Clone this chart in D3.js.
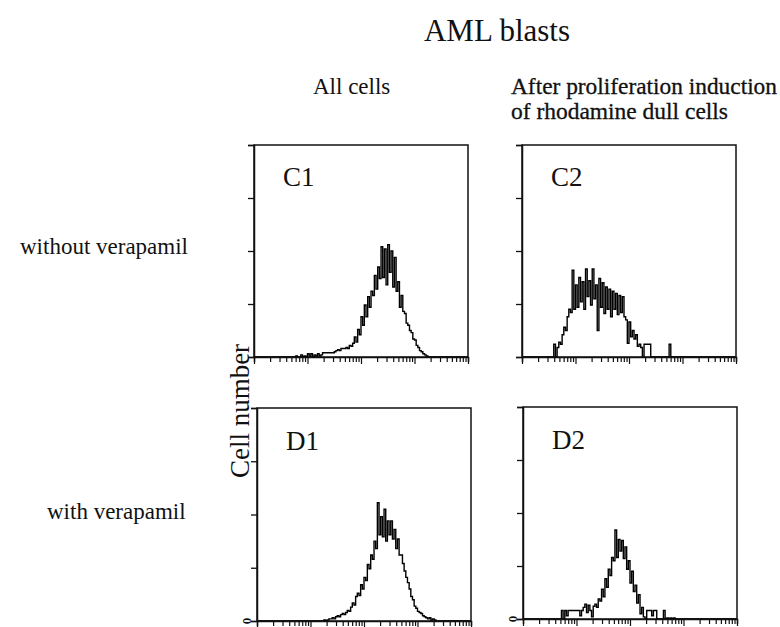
<!DOCTYPE html>
<html><head><meta charset="utf-8">
<script src="https://cdn.jsdelivr.net/npm/d3@7"></script>
<style>body{margin:0;background:#fff}svg{display:block}</style>
</head><body>
<svg id="fig" width="780" height="627"></svg>
<script>
// Flow histograms: 128 channels across four log decades of rhodamine fluorescence
const channelCount = 128;
const decades = [1, 10, 100, 1000, 10000];
const countTicks = [0, 50, 100, 150, 200];

// Cell counts per channel, starting at the given channel (zero elsewhere)
const c1Start = 25;
const c1Counts = [1,0,0,2,0,1,0,3,1,3,0,2,1,3,1,2,4,4,4,4,4,4,4,5,6,7,6,8,8,8,9,8,11,10,13,19,14,26,21,38,30,49,38,57,47,62,58,77,64,85,74,104,75,102,68,106,80,100,66,94,62,71,47,58,43,41,32,30,25,23,17,16,11,9,6,5,3,2,1];

const c2Start = 18;
const c2Counts = [0,12,0,9,14,12,21,28,25,38,45,42,82,45,68,47,75,52,71,45,83,57,72,49,83,55,68,25,74,47,70,41,66,45,64,38,62,45,60,40,58,42,57,38,35,13,33,19,25,17,21,10,12,9,0,12,12,12,12,0,0,0,0,0,0,0,0,0,0,0,12];

const d1Start = 40;
const d1Counts = [1,0,1,2,2,3,2,4,5,4,6,7,6,8,10,9,13,17,15,23,26,24,34,30,41,38,53,49,62,58,75,68,111,81,98,79,105,75,94,81,94,77,86,68,77,62,62,54,47,41,36,30,23,20,14,12,9,8,7,5,4,3,2,3,1,2,1,0];

const d2Start = 22;
const d2Counts = [0,8,0,8,3,8,8,8,8,8,8,8,3,8,11,14,6,13,8,2,12,14,11,19,17,28,21,38,30,47,41,58,55,84,58,75,64,74,57,68,47,55,34,45,26,32,15,23,5,11,2,0,8,8,8,3,8,8,0,0,0,0,8,0,1,0,1,0,1,0];

const panelNames = ["C1", "C2", "D1", "D2"];
const panelData = {
  C1: {start: c1Start, counts: c1Counts},
  C2: {start: c2Start, counts: c2Counts},
  D1: {start: d1Start, counts: d1Counts},
  D2: {start: d2Start, counts: d2Counts}
};

// Frame of each histogram on the page
const frames = {
  C1: {x: 254, y: 145, w: 214, h: 212},
  C2: {x: 522, y: 145, w: 214, h: 212},
  D1: {x: 257, y: 408, w: 214, h: 213},
  D2: {x: 523, y: 407, w: 214, h: 212}
};

const svg = d3.select("#fig");
const serif = "'Liberation Serif', 'Times New Roman', serif";
const ink = "#111";

// minor + major log ticks
const logTicks = [];
for (let e = 0; e < 4; e++) for (let m = 1; m < 10; m++) logTicks.push(m * Math.pow(10, e));
logTicks.push(10000);

panelNames.forEach(name => {
  const f = frames[name];
  const d = panelData[name];
  const g = svg.append("g").attr("transform", `translate(${f.x},${f.y})`);

  const x = d3.scaleLog().domain([decades[0], decades[decades.length - 1]]).range([0, f.w]);
  const y = d3.scaleLinear().domain([countTicks[0], countTicks[countTicks.length - 1]]).range([f.h, 0]);

  const series = d3.range(channelCount).map(b => {
    const i = b - d.start;
    return {
      v: Math.pow(10, 4 * (b + 0.5) / channelCount),
      c: (i >= 0 && i < d.counts.length) ? d.counts[i] : 0
    };
  });

  // frame
  g.append("rect").attr("width", f.w).attr("height", f.h)
    .attr("fill", "none").attr("stroke", ink).attr("stroke-width", 1.5);

  // histogram trace, drawn as channel steps
  g.append("path").datum(series)
    .attr("fill", "none").attr("stroke", "#000").attr("stroke-width", 1.4)
    .attr("d", d3.line().curve(d3.curveStep).x(p => x(p.v)).y(p => y(p.c)));

  // count axis
  const ya = g.append("g").call(d3.axisLeft(y).tickValues(countTicks).tickSize(6).tickFormat(""));
  ya.select(".domain").attr("stroke", ink).attr("stroke-width", 1.5);
  ya.selectAll(".tick line").attr("stroke", ink).attr("stroke-width", 1.3);

  // fluorescence axis
  const xa = g.append("g").attr("transform", `translate(0,${f.h})`)
    .call(d3.axisBottom(x).tickValues(logTicks).tickSize(5).tickFormat(""));
  xa.select(".domain").attr("stroke", ink).attr("stroke-width", 1.5);
  xa.selectAll(".tick line").attr("stroke", ink).attr("stroke-width", 1.2)
    .attr("y2", v => decades.includes(v) ? 7 : 5);

  g.append("text").attr("x", 29).attr("y", name[0] === "C" ? 41 : 42)
    .attr("font-family", serif).attr("font-size", 27).attr("fill", ink)
    .text(name);

  if (name[0] === "D") {
    g.append("text")
      .attr("transform", `translate(-11,${f.h}) rotate(-90)`)
      .attr("text-anchor", "middle").attr("dy", "0.35em")
      .attr("font-family", serif).attr("font-size", 13).attr("font-weight", "bold")
      .attr("fill", ink).text("0");
  }
});

// headings
svg.append("text").attr("x", 497).attr("y", 41).attr("text-anchor", "middle")
  .attr("font-family", serif).attr("font-size", 31).attr("fill", ink).text("AML blasts");
svg.append("text").attr("x", 313).attr("y", 94)
  .attr("font-family", serif).attr("font-size", 23).attr("fill", ink).text("All cells");
svg.append("text").attr("x", 511).attr("y", 94)
  .attr("font-family", serif).attr("font-size", 23).attr("fill", ink)
  .attr("stroke", ink).attr("stroke-width", 0.3)
  .attr("textLength", 266).attr("lengthAdjust", "spacingAndGlyphs").text("After proliferation induction");
svg.append("text").attr("x", 511).attr("y", 119)
  .attr("font-family", serif).attr("font-size", 23).attr("fill", ink)
  .attr("stroke", ink).attr("stroke-width", 0.3)
  .attr("textLength", 217).attr("lengthAdjust", "spacingAndGlyphs").text("of rhodamine dull cells");

// row labels
svg.append("text").attr("x", 20).attr("y", 254)
  .attr("font-family", serif).attr("font-size", 23).attr("fill", ink).text("without verapamil");
svg.append("text").attr("x", 47).attr("y", 519)
  .attr("font-family", serif).attr("font-size", 23).attr("fill", ink).text("with verapamil");

// shared count label
svg.append("text").attr("transform", "translate(249,411) rotate(-90)").attr("text-anchor", "middle")
  .attr("font-family", serif).attr("font-size", 27).attr("fill", ink).text("Cell number");
</script>
</body></html>
